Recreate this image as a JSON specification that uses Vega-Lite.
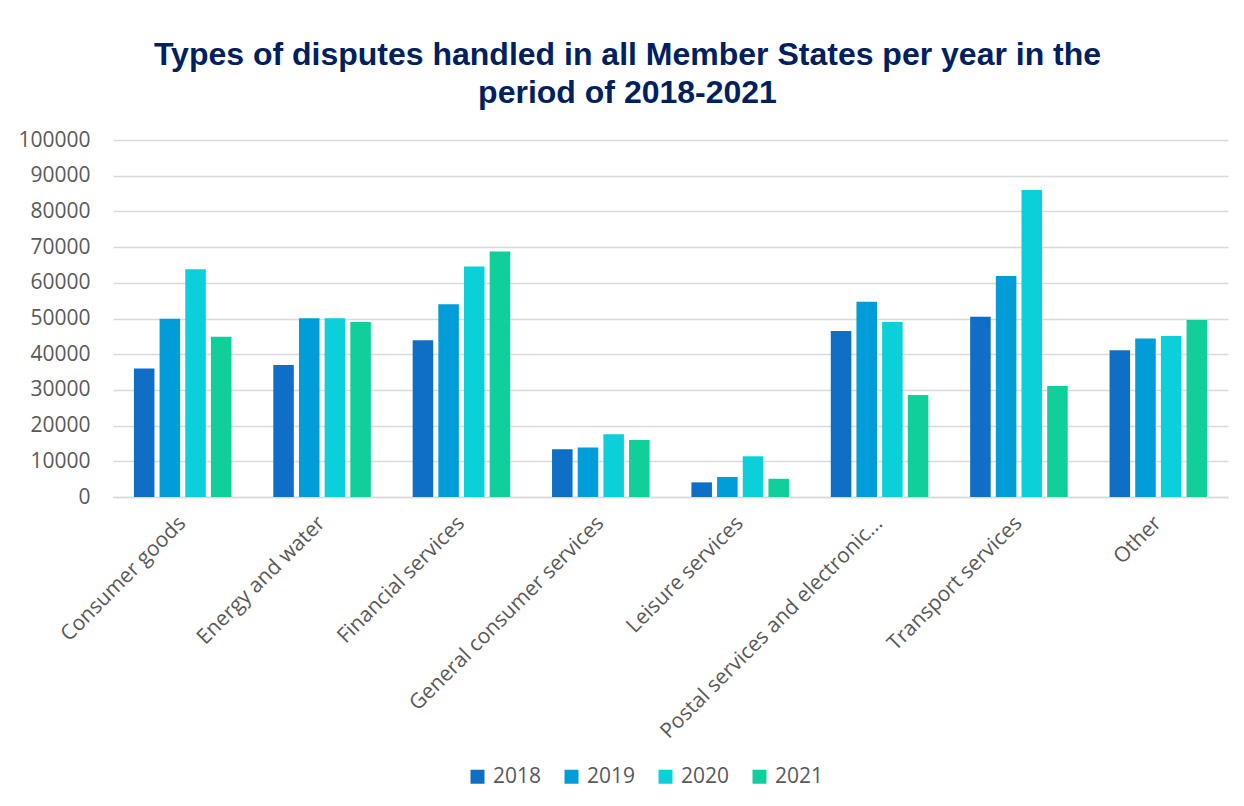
{
  "$schema": "https://vega.github.io/schema/vega-lite/v6.json",
  "width": 1115,
  "height": 357,
  "autosize": {"type": "none"},
  "padding": {"left": 113, "top": 140, "right": 16, "bottom": 309},
  "background": "white",
  "title": {
    "text": ["Types of disputes handled in all Member States per year in the", "period of 2018-2021"],
    "font": "Liberation Sans",
    "fontSize": 32,
    "fontWeight": "bold",
    "color": "#002060",
    "anchor": "middle",
    "dx": -43,
    "offset": 19,
    "lineHeight": 38
  },
  "data": {
    "values": [
      {"category": "Consumer goods", "year": "2018", "value": 36000},
      {"category": "Consumer goods", "year": "2019", "value": 49900},
      {"category": "Consumer goods", "year": "2020", "value": 63800},
      {"category": "Consumer goods", "year": "2021", "value": 44900},
      {"category": "Energy and water", "year": "2018", "value": 37000},
      {"category": "Energy and water", "year": "2019", "value": 50100},
      {"category": "Energy and water", "year": "2020", "value": 50100},
      {"category": "Energy and water", "year": "2021", "value": 49000},
      {"category": "Financial services", "year": "2018", "value": 43900},
      {"category": "Financial services", "year": "2019", "value": 54000},
      {"category": "Financial services", "year": "2020", "value": 64600},
      {"category": "Financial services", "year": "2021", "value": 68800},
      {"category": "General consumer services", "year": "2018", "value": 13400},
      {"category": "General consumer services", "year": "2019", "value": 13900},
      {"category": "General consumer services", "year": "2020", "value": 17600},
      {"category": "General consumer services", "year": "2021", "value": 16000},
      {"category": "Leisure services", "year": "2018", "value": 4100},
      {"category": "Leisure services", "year": "2019", "value": 5600},
      {"category": "Leisure services", "year": "2020", "value": 11400},
      {"category": "Leisure services", "year": "2021", "value": 5100},
      {"category": "Postal services and electronic communications", "year": "2018", "value": 46500},
      {"category": "Postal services and electronic communications", "year": "2019", "value": 54700},
      {"category": "Postal services and electronic communications", "year": "2020", "value": 49000},
      {"category": "Postal services and electronic communications", "year": "2021", "value": 28600},
      {"category": "Transport services", "year": "2018", "value": 50500},
      {"category": "Transport services", "year": "2019", "value": 61900},
      {"category": "Transport services", "year": "2020", "value": 86000},
      {"category": "Transport services", "year": "2021", "value": 31100},
      {"category": "Other", "year": "2018", "value": 41100},
      {"category": "Other", "year": "2019", "value": 44400},
      {"category": "Other", "year": "2020", "value": 45100},
      {"category": "Other", "year": "2021", "value": 49600}
    ]
  },
  "mark": {"type": "bar"},
  "encoding": {
    "x": {
      "field": "category",
      "type": "nominal",
      "sort": null,
      "scale": {"paddingInner": 0.3, "paddingOuter": 0.15},
      "axis": {
        "title": null,
        "labelAngle": -45,
        "labelFont": "Open Sans",
        "labelFontSize": 21,
        "labelColor": "#595959",
        "labelLimit": 500,
        "labelPadding": 15,
        "labelOffset": -8,
        "labelExpr": "datum.label == 'Postal services and electronic communications' ? 'Postal services and electronic...' : datum.label",
        "ticks": false,
        "domain": true,
        "domainColor": "#D9D9D9",
        "domainWidth": 1.5
      }
    },
    "xOffset": {
      "field": "year",
      "type": "nominal",
      "scale": {"paddingInner": 0.2, "paddingOuter": 0}
    },
    "y": {
      "field": "value",
      "type": "quantitative",
      "scale": {"domain": [0, 100000], "nice": false},
      "axis": {
        "title": null,
        "values": [0, 10000, 20000, 30000, 40000, 50000, 60000, 70000, 80000, 90000, 100000],
        "format": "d",
        "labelFont": "Open Sans",
        "labelFontSize": 21,
        "labelColor": "#595959",
        "labelPadding": 23,
        "ticks": false,
        "domain": false,
        "grid": true,
        "gridColor": "#D9D9D9",
        "gridWidth": 1.5
      }
    },
    "color": {
      "field": "year",
      "type": "nominal",
      "scale": {"domain": ["2018", "2019", "2020", "2021"], "range": ["#0F6FC6", "#009DD9", "#0BD0D9", "#10CF9B"]},
      "legend": {
        "title": null,
        "orient": "none",
        "direction": "horizontal",
        "legendX": 354,
        "legendY": 626,
        "symbolType": "square",
        "symbolSize": 196,
        "symbolStrokeWidth": 0,
        "labelFont": "Open Sans",
        "labelFontSize": 21,
        "labelColor": "#595959",
        "labelOffset": 5,
        "columnPadding": 19
      }
    }
  },
  "config": {"view": {"stroke": null}}
}
